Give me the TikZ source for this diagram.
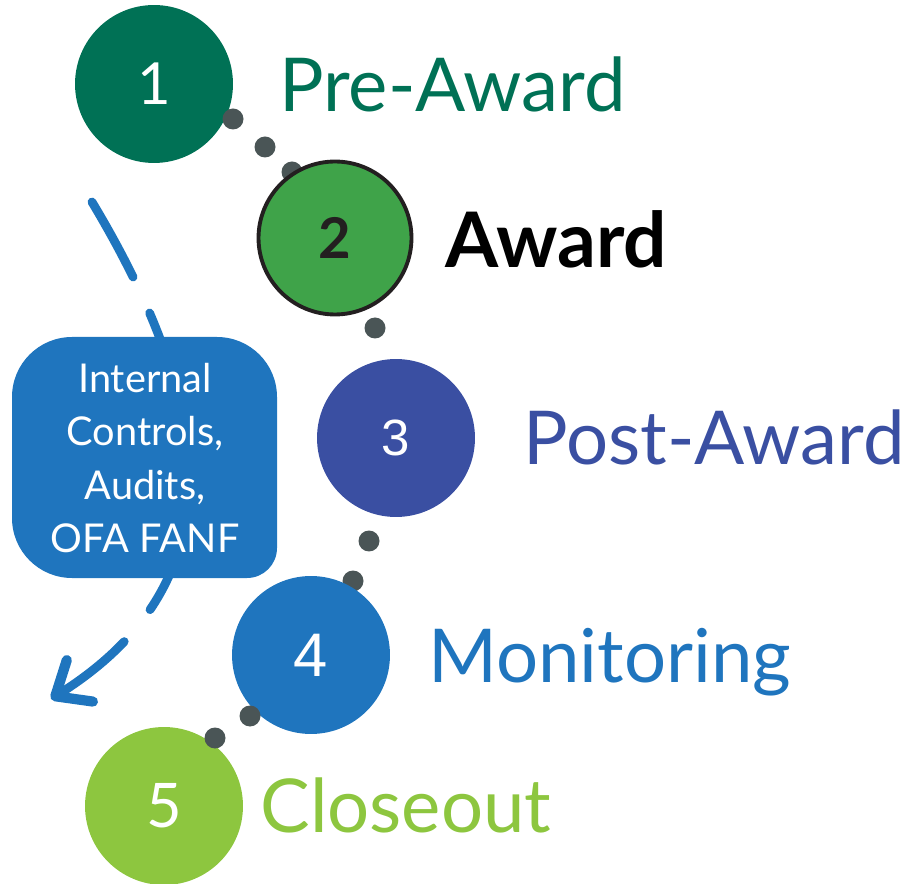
\documentclass[tikz,border=0pt]{standalone}
\usepackage{fontspec}
\setmainfont{Lato}
\newfontfamily\arialf{Liberation Sans}
\usetikzlibrary{arrows.meta}
\definecolor{cone}{HTML}{007155}
\definecolor{ctwo}{HTML}{3FA349}
\definecolor{cthree}{HTML}{3A4FA2}
\definecolor{cfour}{HTML}{1F75BE}
\definecolor{cfive}{HTML}{8DC63F}
\definecolor{cdot}{HTML}{4A5556}
\definecolor{ink}{HTML}{231F20}
\tikzset{
  stage/.style={circle, inner sep=0pt, outer sep=0pt, minimum size=3.16cm, text=white},
  gdot/.style={circle, fill=cdot, inner sep=0pt, minimum size=0.42cm},
  lbl/.style={anchor=base west, inner sep=0pt, font=\fontsize{42.3}{42.3}\selectfont},
  boxtext/.style={inner sep=0pt, align=center, text=white, font=\fontsize{22.6}{30.2}\selectfont},
  looparc/.style={draw=cfour, line width=5pt, line cap=round,
    dash pattern=on 48.7pt off 22.5pt on 176.6pt off 23.4pt on 200pt,
    -{Straight Barb[length=0.58cm, width=0.98cm, line width=5.8pt, line cap=round, line join=round]}}
}
\begin{document}
\begin{tikzpicture}[x=0.02cm, y=0.02cm]
\useasboundingbox (0,0) rectangle (912,-884);
% dashed loop arrow and callout box
\coordinate (ls) at (92,-202);
\coordinate (le) at (51,-699);
\draw[looparc] (ls) .. controls (221,-417) and (232,-585) .. (le);
\fill[cfour] (12,-397) arc[start angle=180, end angle=90, radius=60] -- (217,-337)
  arc[start angle=90, end angle=0, radius=60] -- (277,-548)
  arc[start angle=0, end angle=-90, radius=30] -- (72,-578)
  arc[start angle=270, end angle=180, radius=60] -- cycle;
\node[boxtext] (box) at (145,-458) {Internal\\Controls,\\Audits,\\OFA FANF};
% circles
\node[stage, fill=cone, font=\fontsize{33}{33}\selectfont] (s1) at (154,-84) {1};
\node[stage, fill=cthree, font=\arialf\fontsize{29}{29}\selectfont] (s3) at (396,-438) {3};
\node[gdot] (d1) at (233,-119) {};
\node[gdot] (d2) at (265,-147) {};
\node[gdot] (d3) at (292,-172) {};
\node[gdot] (d4) at (375,-328) {};
\node[gdot] (d5) at (369,-541) {};
\node[gdot] (d6) at (353,-581) {};
\node[stage, fill=ctwo, draw=ink, line width=2.2pt, minimum size=3.06cm, text=ink, font=\bfseries\fontsize{32}{32}\selectfont] (s2) at (335,-238) {2};
\node[stage, fill=cfour, font=\arialf\fontsize{35}{35}\selectfont] (s4) at (311,-655) {4};
\node[stage, fill=cfive, font=\fontsize{35}{35}\selectfont] (s5) at (164,-806) {5};
\node[gdot] (d7) at (250,-716) {};
\node[gdot] (d8) at (215,-738) {};
% labels
\node[lbl, text=cone] (t1) at (279,-112) {Pre-Award};
\node[lbl, text=black, font=\bfseries\fontsize{43.6}{43.6}\selectfont] (t2) at (445,-268) {Award};
\node[lbl, text=cthree] (t3) at (523,-465) {Post-Award};
\node[lbl, text=cfour] (t4) at (428,-682) {Monitoring};
\node[lbl, text=cfive] (t5) at (260,-832) {Closeout};
\end{tikzpicture}
\end{document}
